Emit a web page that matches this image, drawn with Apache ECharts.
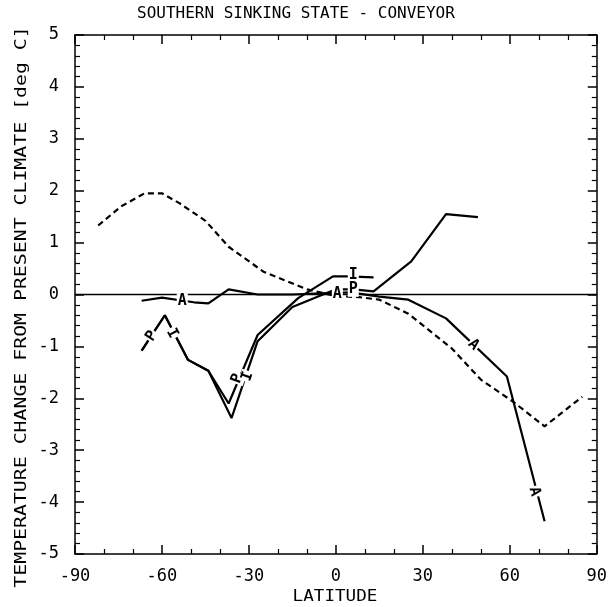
<!DOCTYPE html>
<html>
<head>
<meta charset="utf-8">
<script src="https://cdn.jsdelivr.net/npm/echarts@6/dist/echarts.min.js"></script>
<style>
html,body{margin:0;padding:0;background:#fff;}
#chart{width:610px;height:607px;}
</style>
</head>
<body>
<div id="chart"></div>
<script>
// ---- data ----
var xTicks = [-90, -60, -30, 0, 30, 60, 90];
var yTicks = [-5, -4, -3, -2, -1, 0, 1, 2, 3, 4, 5];

// dashed curve
var dashLat = [-82, -74, -66, -60, -54, -45, -37, -25, -10, 0, 8, 15, 25, 40, 50, 61, 72, 85];
var dashVal = [1.33, 1.70, 1.95, 1.95, 1.76, 1.42, 0.92, 0.44, 0.10, -0.03, -0.05, -0.10, -0.37, -1.04, -1.64, -2.06, -2.54, -1.97];

// solid curve A
var aLat = [-67, -60, -49, -44, -37, -27, -15, -5, 5, 15, 25, 38, 59, 72];
var aVal = [-0.12, -0.06, -0.15, -0.17, 0.10, 0.00, 0.00, 0.02, 0.04, -0.04, -0.10, -0.46, -1.58, -4.37];

// solid curve P
var pLat = [-67, -59, -51, -44, -36, -27, -15, 0, 6, 13, 26, 38, 49];
var pVal = [-1.08, -0.40, -1.26, -1.47, -2.38, -0.90, -0.24, 0.10, 0.10, 0.06, 0.64, 1.55, 1.49];

// solid curve I
var iLat = [-67, -59, -51, -44, -37, -27, -13, -1, 4, 13];
var iVal = [-1.08, -0.40, -1.26, -1.47, -2.10, -0.78, -0.07, 0.35, 0.35, 0.33];

// in-line curve labels
var lblText = ['A', 'A', 'A', 'A', 'P', 'I', 'P', 'I', 'I', 'P'];
var lblLat  = [-53, 0.5, 47.5, 68.5, -63.5, -56.5, -34, -30.5, 6, 6];
var lblVal  = [-0.12, 0.0, -0.97, -3.8, -0.8, -0.75, -1.62, -1.58, 0.38, 0.1];
var lblRot  = [0, 0, -44, -75, 57, -62, 71, 71, 0, 0];

var titleText = 'SOUTHERN SINKING STATE - CONVEYOR';
var xName = 'LATITUDE';
var yName = 'TEMPERATURE CHANGE FROM PRESENT CLIMATE [deg C]';

function zip(a, b) { return a.map(function (v, i) { return [v, b[i]]; }); }

var FONT = 'DejaVu Sans Mono';
var chart = echarts.init(document.getElementById('chart'), null, {renderer: 'canvas'});

var lblData = lblText.map(function (t, i) {
  return {
    value: [lblLat[i], lblVal[i]],
    name: t,
    label: {rotate: lblRot[i]}
  };
});

var axisCommon = {
  type: 'value',
  axisLine: {show: true, onZero: false, lineStyle: {color: '#000', width: 1.5}},
  axisTick: {show: true, inside: true, length: 9, lineStyle: {color: '#000', width: 1.5}},
  minorTick: {show: true, length: 5, lineStyle: {color: '#000', width: 1.2}},
  splitLine: {show: false},
  minorSplitLine: {show: false}
};

var option = {
  animation: false,
  backgroundColor: '#fff',
  grid: {left: 75, right: 13, top: 35, bottom: 53, containLabel: false},
  xAxis: [
    Object.assign({}, axisCommon, {
      min: -90, max: 90, interval: 30, position: 'bottom',
      minorTick: Object.assign({}, axisCommon.minorTick, {splitNumber: 3}),
      axisLabel: {show: true, margin: 14, color: '#000', fontFamily: FONT, fontSize: 17,
        formatter: function (v) { return xTicks.indexOf(v) >= 0 ? String(v) : ''; }}
    }),
    Object.assign({}, axisCommon, {
      min: -90, max: 90, interval: 30, position: 'top',
      minorTick: Object.assign({}, axisCommon.minorTick, {splitNumber: 3}),
      axisLabel: {show: false}
    })
  ],
  yAxis: [
    Object.assign({}, axisCommon, {
      min: -5, max: 5, interval: 1, position: 'left',
      minorTick: Object.assign({}, axisCommon.minorTick, {splitNumber: 5}),
      axisLabel: {show: true, margin: 16, color: '#000', fontFamily: FONT, fontSize: 17,
        formatter: function (v) { return yTicks.indexOf(v) >= 0 ? String(v) : ''; }}
    }),
    Object.assign({}, axisCommon, {
      min: -5, max: 5, interval: 1, position: 'right',
      minorTick: Object.assign({}, axisCommon.minorTick, {splitNumber: 5}),
      axisLabel: {show: false}
    })
  ],
  graphic: [
    {type: 'text', left: 297 - 160, top: 6, style: {text: titleText, fill: '#000', font: '16px ' + FONT}},
    {type: 'text', x: 335, y: 597, scaleX: 1.1, style: {text: xName, fill: '#000', font: '16px ' + FONT, textAlign: 'center', textVerticalAlign: 'middle'}},
    {type: 'text', x: 22, y: 307, rotation: Math.PI / 2, scaleX: 1.24, style: {text: yName, fill: '#000', font: '16px ' + FONT, textAlign: 'center', textVerticalAlign: 'middle'}}
  ],
  series: [
    {
      type: 'line', name: 'zero', data: [[-90, 0], [90, 0]], symbol: 'none', silent: true,
      lineStyle: {color: '#000', width: 1.5}, z: 1
    },
    {
      type: 'line', name: 'dashed', data: zip(dashLat, dashVal), symbol: 'none',
      lineStyle: {color: '#000', width: 2.2, type: [6, 4]}, z: 2
    },
    {
      type: 'line', name: 'A', data: zip(aLat, aVal), symbol: 'none',
      lineStyle: {color: '#000', width: 2.2}, z: 2
    },
    {
      type: 'line', name: 'P', data: zip(pLat, pVal), symbol: 'none',
      lineStyle: {color: '#000', width: 2.2}, z: 2
    },
    {
      type: 'line', name: 'I', data: zip(iLat, iVal), symbol: 'none',
      lineStyle: {color: '#000', width: 2.2}, z: 2
    },
    {
      type: 'scatter', name: 'labels', data: lblData, symbol: 'circle', symbolSize: 1,
      itemStyle: {color: '#fff', opacity: 1}, z: 5,
      labelLayout: {hideOverlap: false},
      emphasis: {disabled: true},
      label: {
        show: true, position: 'inside', formatter: '{b}', color: '#000', opacity: 1,
        textBorderWidth: 0, fontFamily: FONT, fontSize: 15, fontWeight: 'bold',
        backgroundColor: '#fff', padding: [0, 1]
      }
    }
  ]
};
chart.setOption(option);
</script>
</body>
</html>
